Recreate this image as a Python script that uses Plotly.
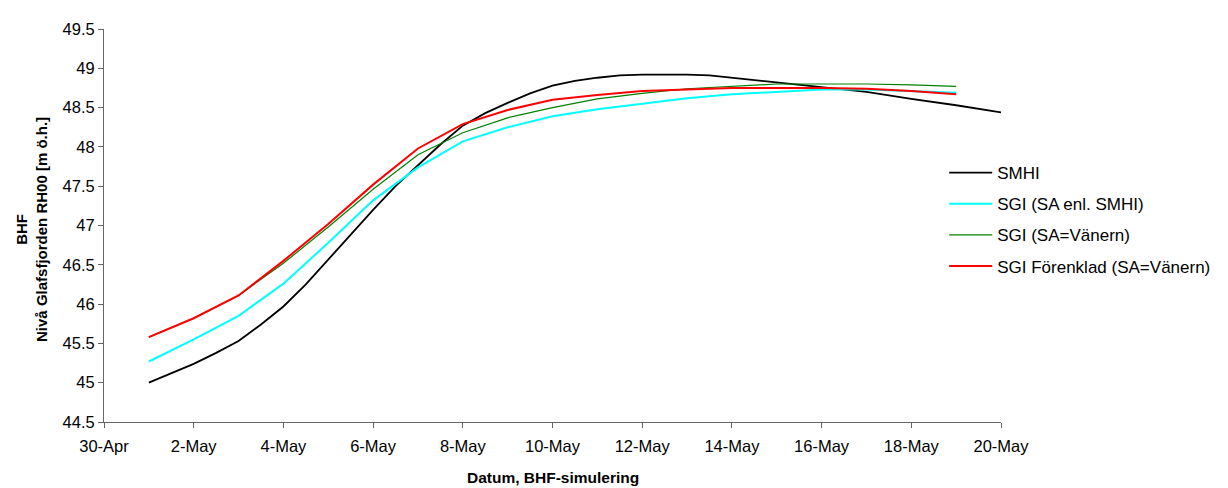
import plotly.graph_objects as go

# ---------------- data ----------------
smhi_t = ["2008-05-01 00:00", "2008-05-01 12:00", "2008-05-02 00:00", "2008-05-02 12:00",
          "2008-05-03 00:00", "2008-05-03 12:00", "2008-05-04 00:00", "2008-05-04 12:00",
          "2008-05-05 00:00", "2008-05-05 12:00", "2008-05-06 00:00", "2008-05-06 12:00",
          "2008-05-07 00:00", "2008-05-07 12:00", "2008-05-08 00:00", "2008-05-08 12:00",
          "2008-05-09 00:00", "2008-05-09 12:00", "2008-05-10 00:00", "2008-05-10 12:00",
          "2008-05-11 00:00", "2008-05-11 12:00", "2008-05-12 00:00", "2008-05-13 00:00",
          "2008-05-13 12:00", "2008-05-14 00:00", "2008-05-15 00:00", "2008-05-16 00:00",
          "2008-05-17 00:00", "2008-05-18 00:00", "2008-05-19 00:00", "2008-05-20 00:00"]
smhi = [45.00, 45.12, 45.24, 45.38, 45.53, 45.74, 45.97, 46.25,
        46.57, 46.88, 47.20, 47.50, 47.77, 48.03, 48.27, 48.43,
        48.56, 48.68, 48.78, 48.84, 48.88, 48.91, 48.92, 48.92,
        48.91, 48.88, 48.82, 48.76, 48.70, 48.61, 48.53, 48.44]

sgi_t = ["2008-05-%02d" % d for d in range(1, 20)]
sgi_smhi = [45.27, 45.55, 45.85, 46.26, 46.78, 47.32, 47.74, 48.07, 48.25, 48.39,
            48.48, 48.55, 48.62, 48.67, 48.70, 48.73, 48.73, 48.71, 48.69]
sgi_vanern = [45.58, 45.82, 46.11, 46.52, 46.98, 47.46, 47.90, 48.18, 48.37, 48.50,
              48.61, 48.68, 48.74, 48.77, 48.80, 48.80, 48.80, 48.79, 48.77]
sgi_forenklad = [45.58, 45.82, 46.11, 46.55, 47.02, 47.52, 47.98, 48.29, 48.47, 48.60,
                 48.66, 48.71, 48.73, 48.75, 48.75, 48.75, 48.74, 48.71, 48.67]

names = ["SMHI", "SGI (SA enl. SMHI)", "SGI (SA=Vänern)", "SGI Förenklad (SA=Vänern)"]
colors = ["#000000", "#00FFFF", "#008000", "#FF0000"]
widths = [1.8, 2, 1.2, 2]

y_ticks = [44.5, 45, 45.5, 46, 46.5, 47, 47.5, 48, 48.5, 49, 49.5]
y_tick_text = ["44.5", "45", "45.5", "46", "46.5", "47", "47.5", "48", "48.5", "49", "49.5"]

FONT = "Liberation Sans, Arial, sans-serif"

# page is rendered with an 8px body margin -> figure is 1220x480
W, H = 1220, 480
ML, MR, MT, MB = 96, 208, 15, 66
PW, PH = W - ML - MR, H - MT - MB

fig = go.Figure()
series = [(smhi_t, smhi), (sgi_t, sgi_smhi), (sgi_t, sgi_vanern), (sgi_t, sgi_forenklad)]
for (t, v), n, c, w in zip(series, names, colors, widths):
    fig.add_trace(go.Scatter(x=t, y=v, mode="lines", name=n, legendgroup=n,
                             line=dict(color=c, width=w)))

fig.update_layout(
    width=W, height=H,
    margin=dict(l=ML, r=MR, t=MT, b=MB),
    paper_bgcolor="white", plot_bgcolor="white",
    font=dict(family=FONT, size=16, color="#000"),
    showlegend=True,
    legend=dict(x=(954 - ML) / PW, y=1 - (143 - MT) / PH, xanchor="left", yanchor="top",
                bgcolor="rgba(0,0,0,0)", tracegroupgap=6, itemwidth=43,
                font=dict(family=FONT, size=17, color="#000")),
    xaxis=dict(type="date", range=["2008-04-30", "2008-05-20"],
               tick0="2008-04-30", dtick=2 * 86400000, tickformat="%-d-%b",
               showline=True, linecolor="#666", linewidth=1,
               ticks="outside", ticklen=5, tickcolor="#666",
               showgrid=False, zeroline=False, ticklabelstandoff=4,
               tickfont=dict(family=FONT, size=16.5)),
    yaxis=dict(range=[44.5, 49.5], tickvals=y_ticks, ticktext=y_tick_text,
               showline=True, linecolor="#666", linewidth=1,
               ticks="outside", ticklen=5, tickcolor="#666",
               showgrid=False, zeroline=False,
               tickfont=dict(family=FONT, size=16.5)),
)

fig.add_annotation(text="<b>Datum, BHF-simulering</b>", xref="paper", yref="paper",
                   x=0.5, y=-56 / PH,
                   xanchor="center", yanchor="middle", showarrow=False,
                   font=dict(family=FONT, size=15.5, color="#000"))
fig.add_annotation(text="<b>BHF</b><br><b>Nivå Glafsfjorden RH00 [m ö.h.]</b>",
                   xref="paper", yref="paper",
                   x=(22 - ML) / PW, y=0.5 - 4 / PH,
                   xanchor="center", yanchor="middle", showarrow=False, textangle=-90,
                   font=dict(family=FONT, size=15, color="#000"))

fig.write_html("out.html")
